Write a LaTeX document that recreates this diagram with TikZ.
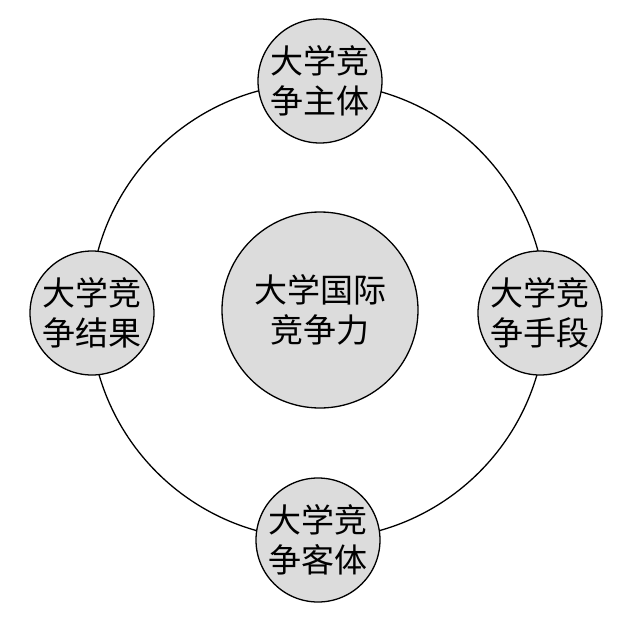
\documentclass[tikz,border=0pt]{standalone}
\usepackage{fontspec}
\newfontfamily\cjk{Noto Sans CJK SC}
\definecolor{fillgray}{HTML}{DCDCDC}
\tikzset{
  ball/.style={circle, draw=black, line width=1.3pt, fill=fillgray, inner sep=0pt, align=center,
    font=\cjk\fontsize{33}{40}\selectfont},
  ring/.style={draw=black, line width=1.3pt}
}
\begin{document}
\begin{tikzpicture}[x=1pt,y=-1pt]
\useasboundingbox (0,0) rectangle (633,625);
\fill[white] (0,0) rectangle (633,625);
\coordinate (c) at (318,311);
\draw[ring] (c) circle[radius=228];
\node[ball, minimum size=196pt] (core) at (320,310) {大学国际\\竞争力};
\node[ball, minimum size=124pt] (top) at (320,81) {大学竞\\争主体};
\node[ball, minimum size=124pt] (bot) at (318,540) {大学竞\\争客体};
\node[ball, minimum size=124pt] (left) at (92,313) {大学竞\\争结果};
\node[ball, minimum size=124pt] (right) at (540,313) {大学竞\\争手段};
\end{tikzpicture}
\end{document}
